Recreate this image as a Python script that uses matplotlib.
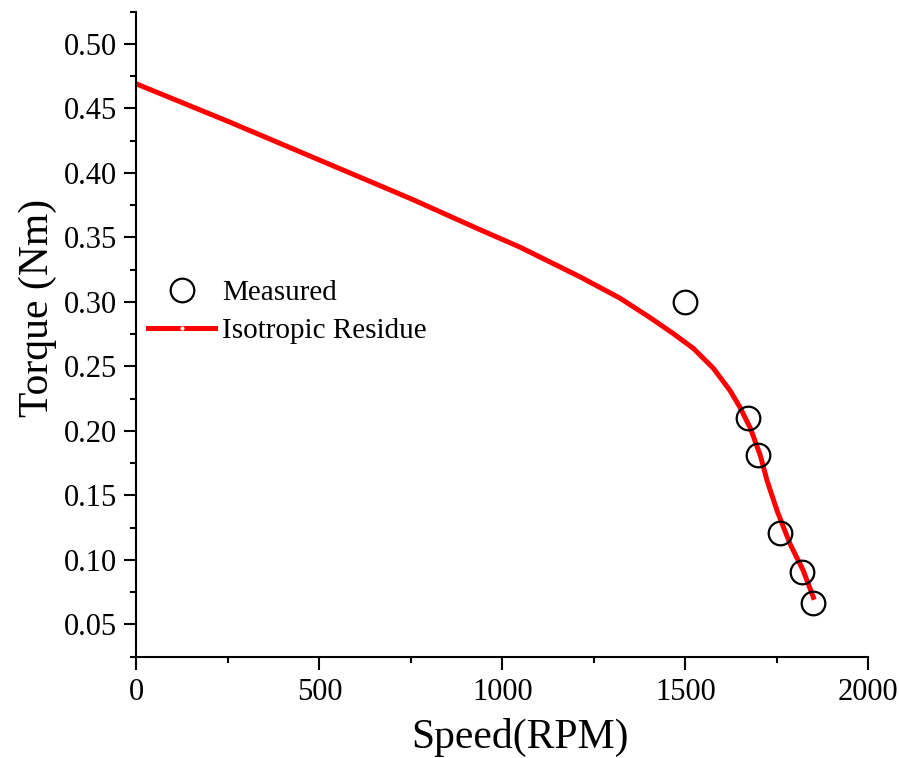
"""
Torque vs speed: measured points and isotropic residue model curve.
"""
import matplotlib
matplotlib.use("Agg")
import matplotlib.pyplot as plt
from matplotlib.lines import Line2D
from matplotlib.ticker import MultipleLocator

plt.rcParams["font.family"] = ["Liberation Serif", "DejaVu Serif"]

# Measured data (circles)
measured_speed = [1500, 1670, 1700, 1760, 1818, 1850]
measured_torque = [0.300, 0.210, 0.181, 0.121, 0.091, 0.067]

# Isotropic residue model curve
model_speed = [0, 250, 500, 750, 939, 1048, 1212, 1321, 1403, 1467, 1522,
               1577, 1623, 1650, 1678, 1705, 1724, 1751, 1787, 1822, 1850]
model_torque = [0.469, 0.440, 0.410, 0.380, 0.356, 0.3425, 0.3195, 0.303, 0.288, 0.2755, 0.264,
                0.2485, 0.231, 0.218, 0.202, 0.181, 0.161, 0.138, 0.112, 0.092, 0.071]

fig = plt.figure(figsize=(8.99, 7.58), dpi=100)
ax = fig.add_axes([0.1518, 0.1336, 0.814, 0.851])

ax.plot(model_speed, model_torque, color="red", linewidth=3.6, zorder=2)
ax.plot(measured_speed, measured_torque, linestyle="none", marker="o",
        markersize=17, markerfacecolor="none", markeredgecolor="black",
        markeredgewidth=1.6, zorder=3)

ax.set_xlim(0, 2000)
ax.set_ylim(0.025, 0.525)
ax.xaxis.set_major_locator(MultipleLocator(500))
ax.xaxis.set_minor_locator(MultipleLocator(250))
ax.yaxis.set_major_locator(MultipleLocator(0.05))
ax.yaxis.set_minor_locator(MultipleLocator(0.025))
ax.yaxis.set_major_formatter(lambda v, pos: f"{v:.2f}")

for side in ("top", "right"):
    ax.spines[side].set_visible(False)
for side in ("left", "bottom"):
    ax.spines[side].set_linewidth(1.5)

ax.tick_params(which="major", direction="out", length=9, width=1.5, labelsize=22)
ax.tick_params(which="minor", direction="out", length=4.5, width=1.5)
ax.tick_params(axis="y", which="major", pad=5)
ax.tick_params(axis="x", which="major", pad=6)

ax.set_xlabel("Speed(RPM)", fontsize=30)
ax.set_ylabel("Torque (Nm)", fontsize=30)
ax.xaxis.label.set_va("center")
ax.yaxis.label.set_va("center")
ax.xaxis.set_label_coords(0.524, -0.1245)
ax.yaxis.set_label_coords(-0.135, 0.54)

# Legend
h_meas = Line2D([], [], linestyle="none", marker="o", markersize=17,
                markerfacecolor="none", markeredgecolor="black", markeredgewidth=1.6)
h_line = Line2D([], [], color="red", linewidth=3.6)
h_dot = Line2D([], [], linestyle="none", marker="o", markersize=2,
               markerfacecolor="white", markeredgecolor="white")
ax.legend([h_meas, (h_line, h_dot)], ["Measured", "Isotropic Residue"],
          loc="upper left", bbox_to_anchor=(148 / 899, 1 - 280 / 758),
          bbox_transform=fig.transFigure, frameon=False, fontsize=21,
          handlelength=2.3, handletextpad=0.25, labelspacing=0.38,
          borderpad=0, borderaxespad=0)

plt.savefig("out.png", dpi=100)
plt.close()
